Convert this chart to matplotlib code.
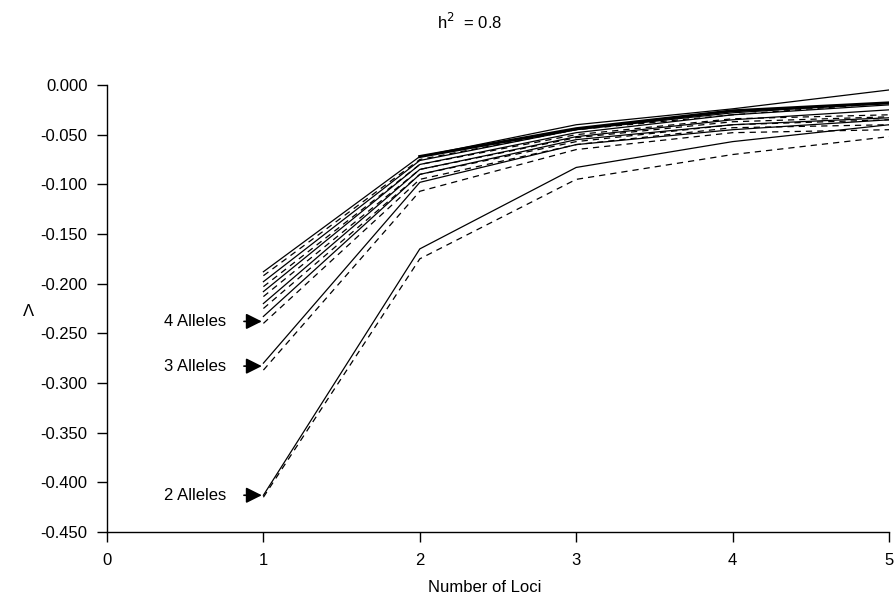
import matplotlib
matplotlib.use('Agg')
import matplotlib.pyplot as plt
from matplotlib.ticker import FuncFormatter

plt.rcParams['font.family'] = ['Liberation Sans', 'DejaVu Sans']
plt.rcParams['axes.unicode_minus'] = False

loci = [1, 2, 3, 4, 5]
alleles = [2, 3, 4, 5, 6, 7, 8]
y_ticks = [0.0, -0.05, -0.10, -0.15, -0.20, -0.25, -0.30, -0.35, -0.40, -0.45]

# solid = one model, dashed = the other
solid = {
    2: [-0.413, -0.165, -0.083, -0.057, -0.040],
    3: [-0.280, -0.098, -0.060, -0.045, -0.035],
    4: [-0.233, -0.090, -0.055, -0.040, -0.033],
    5: [-0.220, -0.085, -0.052, -0.035, -0.025],
    6: [-0.208, -0.080, -0.048, -0.030, -0.020],
    7: [-0.198, -0.076, -0.045, -0.028, -0.018],
    8: [-0.188, -0.072, -0.040, -0.024, -0.005],
}
dashed = {
    2: [-0.415, -0.175, -0.095, -0.070, -0.052],
    3: [-0.287, -0.107, -0.065, -0.048, -0.045],
    4: [-0.240, -0.095, -0.060, -0.043, -0.040],
    5: [-0.225, -0.090, -0.057, -0.040, -0.035],
    6: [-0.213, -0.085, -0.053, -0.037, -0.032],
    7: [-0.203, -0.080, -0.050, -0.034, -0.030],
    8: [-0.192, -0.075, -0.045, -0.030, -0.018],
}
bold_line = [-0.072, -0.044, -0.026, -0.018]
labels = ['2 Alleles', '3 Alleles', '4 Alleles']
label_y = [-0.413, -0.283, -0.238]

fig = plt.figure(figsize=(8.95, 6.03), dpi=100)
ax = fig.add_axes([107 / 895, 71 / 603, 782 / 895, 447 / 603])

for a in alleles:
    ax.plot(loci, solid[a], color='black', lw=0.9, ls='-')
    ax.plot(loci, dashed[a], color='black', lw=0.9, ls=(0, (5, 4)))
ax.plot(loci[1:], bold_line, color='black', lw=2.2)

for t, y in zip(labels, label_y):
    ax.annotate(t, xy=(0.99, y), xytext=(0.76, y), ha='right', va='center',
                fontsize=12,
                arrowprops=dict(arrowstyle='-|>', color='black', lw=1.2,
                                mutation_scale=24, shrinkA=11, shrinkB=0))

ax.set_xlim(0, 5)
ax.set_ylim(-0.45, 0.0)
ax.set_xticks([0, 1, 2, 3, 4, 5])
ax.set_yticks(y_ticks)
ax.yaxis.set_major_formatter(FuncFormatter(lambda v, p: '%.3f' % v if abs(v) > 1e-9 else '0.000'))
ax.tick_params(labelsize=12, direction='out', length=7, width=1, pad=7)
ax.tick_params(axis='x', pad=8)
for s in ['top', 'right']:
    ax.spines[s].set_visible(False)
ax.spines['left'].set_linewidth(1)
ax.spines['bottom'].set_linewidth(1)

fig.text(485 / 895, 1 - 588 / 603, 'Number of Loci', fontsize=12, ha='center', va='center')
fig.text(28 / 895, 1 - 311 / 603, '\u039b', fontsize=12, ha='center', va='center')
fig.text(470 / 895, 1 - 22 / 603, 'h$^2$  = 0.8', fontsize=12, ha='center', va='center')

fig.savefig('out.png', dpi=100, facecolor='white')
